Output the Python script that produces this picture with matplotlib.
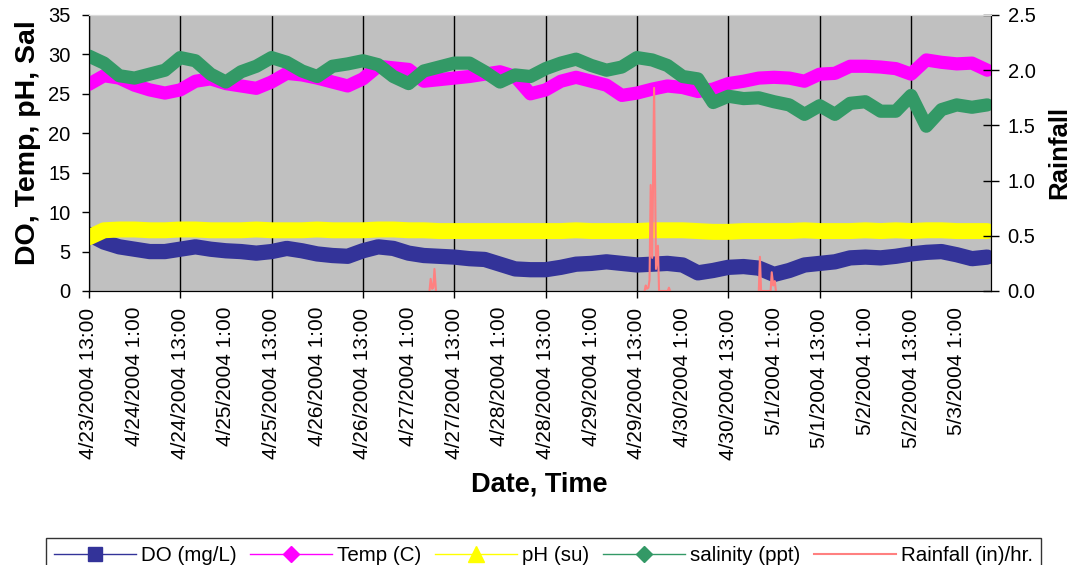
import matplotlib.pyplot as plt
import numpy as np
import pandas as pd
from matplotlib.lines import Line2D
from matplotlib.ticker import FormatStrFormatter, MultipleLocator

plt.rcParams['font.family'] = ['Liberation Sans', 'DejaVu Sans']

start = pd.Timestamp('2004-04-23 13:00')

# sonde readings, every 4 hours from the start time
hours = list(range(0, 240, 4))

do_mgl = [7.2, 6.2, 5.6, 5.3, 5.0, 5.0, 5.3, 5.6, 5.3, 5.1,
          5.0, 4.8, 5.0, 5.4, 5.1, 4.7, 4.5, 4.4, 5.1, 5.6,
          5.4, 4.8, 4.5, 4.4, 4.3, 4.1, 4.0, 3.4, 2.8, 2.7,
          2.7, 3.0, 3.4, 3.5, 3.7, 3.5, 3.3, 3.4, 3.5, 3.3,
          2.3, 2.6, 3.0, 3.1, 2.9, 2.1, 2.6, 3.3, 3.5, 3.7,
          4.2, 4.3, 4.2, 4.4, 4.7, 4.9, 5.0, 4.6, 4.1, 4.3]

temp_c = [26.2, 27.3, 27.0, 26.1, 25.5, 25.1, 25.5, 26.6, 26.9, 26.3,
          26.0, 25.7, 26.5, 27.6, 27.4, 27.0, 26.5, 26.0, 26.9, 28.5,
          28.3, 28.1, 26.6, 26.8, 27.0, 27.2, 27.5, 27.8, 27.2, 25.0,
          25.5, 26.6, 27.1, 26.6, 26.1, 24.8, 25.1, 25.6, 26.0, 25.8,
          25.3, 25.6, 26.3, 26.6, 27.0, 27.1, 27.0, 26.6, 27.5, 27.6,
          28.5, 28.5, 28.4, 28.2, 27.5, 29.3, 29.0, 28.8, 28.9, 28.0]

ph_su = [6.8, 7.7, 7.8, 7.8, 7.7, 7.7, 7.8, 7.8, 7.7, 7.7,
         7.7, 7.8, 7.7, 7.7, 7.7, 7.8, 7.7, 7.7, 7.7, 7.8,
         7.8, 7.7, 7.7, 7.6, 7.6, 7.6, 7.6, 7.6, 7.6, 7.6,
         7.6, 7.6, 7.7, 7.6, 7.6, 7.6, 7.6, 7.7, 7.7, 7.7,
         7.6, 7.5, 7.5, 7.6, 7.6, 7.6, 7.6, 7.7, 7.6, 7.6,
         7.6, 7.7, 7.6, 7.7, 7.6, 7.7, 7.7, 7.6, 7.6, 7.6]

salinity_ppt = [29.8, 28.9, 27.3, 27.0, 27.5, 28.0, 29.6, 29.2, 27.5, 26.5,
                27.8, 28.5, 29.6, 29.0, 27.9, 27.2, 28.5, 28.8, 29.2, 28.7,
                27.2, 26.3, 27.9, 28.4, 28.9, 28.9, 27.8, 26.5, 27.4, 27.2,
                28.2, 28.9, 29.4, 28.6, 28.0, 28.4, 29.6, 29.3, 28.6, 27.2,
                26.9, 23.9, 24.7, 24.4, 24.5, 24.0, 23.6, 22.4, 23.5, 22.4,
                23.8, 24.0, 22.8, 22.8, 24.8, 20.9, 23.0, 23.6, 23.3, 23.6]

# rain gauge (in/hr) for the three showers, hours since start
rain_hours = [[89.5, 89.8, 90.2, 90.5, 90.8, 91.2],
              [146.0, 146.3, 146.6, 147.0, 147.3, 147.6, 148.0, 148.5, 149.0, 149.5, 149.8,
               152.1, 152.4, 152.7],
              [176.0, 176.3, 176.6, 179.1, 179.4, 179.8, 180.2, 180.5]]
rain_in = [[0, 0.11, 0.02, 0.03, 0.20, 0],
           [0, 0.05, 0.02, 0.03, 0.10, 0.96, 0.30, 1.84, 0.20, 0.41, 0,
            0, 0.03, 0],
           [0, 0.31, 0, 0, 0.17, 0.05, 0.09, 0]]

label_times = pd.date_range(start, periods=20, freq='12h')
tick_labels = [f"{t.month}/{t.day}/{t.year} {t.hour}:{t.minute:02d}" for t in label_times]
tick_hours = [(t - start).total_seconds() / 3600 for t in label_times]

c_do, c_temp, c_ph, c_sal, c_rain = '#333399', '#FF00FF', '#FFFF00', '#339966', '#FF8080'

fig = plt.figure(figsize=(10.78, 5.65), dpi=100)
ax = fig.add_axes([88.8 / 1078, 1 - 291 / 565, (991 - 88.8) / 1078, 276 / 565])
ax.set_facecolor('#C0C0C0')

band = dict(solid_joinstyle='round', solid_capstyle='round')
ax.plot(hours, do_mgl, color=c_do, lw=11, **band)
ax.plot(hours, temp_c, color=c_temp, lw=9.5, **band)
ax.plot(hours, ph_su, color=c_ph, lw=11.5, **band)
ax.plot(hours, salinity_ppt, color=c_sal, lw=9.5, **band)

ax.set_xlim(0, 237)
ax.set_ylim(0, 35)
ax.yaxis.set_major_locator(MultipleLocator(5))
ax.set_xticks(tick_hours[::2], tick_labels[::2])
ax.set_xticks(tick_hours[1::2], tick_labels[1::2], minor=True)
ax.tick_params(axis='x', which='both', rotation=90, labelsize=15)
ax.tick_params(axis='x', which='major', length=5, width=1, pad=7.5)
ax.tick_params(axis='x', which='minor', length=0, pad=11.5)
ax.tick_params(axis='y', length=5, width=1, pad=8, labelsize=14.5)
ax.grid(axis='x', which='major', color='black', lw=1)
ax.set_axisbelow(True)

ax2 = ax.twinx()
for rh, rv in zip(rain_hours, rain_in):
    ax2.plot(rh, rv, color=c_rain, lw=1.5)
ax2.set_ylim(0, 2.5)
ax2.yaxis.set_major_locator(MultipleLocator(0.5))
ax2.yaxis.set_major_formatter(FormatStrFormatter('%.1f'))
ax2.tick_params(axis='y', direction='inout', length=11, width=1, pad=6.5, labelsize=14.5)

for a in (ax, ax2):
    for side in ('left', 'bottom', 'right'):
        a.spines[side].set_color('black')
    a.spines['top'].set_color('#DADADA')

ax.set_ylabel('DO, Temp, pH, Sal', fontsize=20.5, fontweight='bold', va='center', ha='center')
ax.yaxis.set_label_coords(-0.067, 0.538)
ax.set_xlabel('Date, Time', fontsize=19.5, fontweight='bold', va='center')
ax.xaxis.set_label_coords((539 - 88.8) / 902.2, (291 - 484) / 276)
ax2.set_ylabel('Rainfall', fontsize=18.5, fontweight='bold', va='center', ha='center')
ax2.yaxis.set_label_coords((1059 - 88.8) / 902.2, 0.502)

handles = [
    Line2D([], [], color=c_do, lw=1, marker='s', ms=10.5),
    Line2D([], [], color=c_temp, lw=1, marker='D', ms=8),
    Line2D([], [], color=c_ph, lw=1, marker='^', ms=11),
    Line2D([], [], color=c_sal, lw=1, marker='D', ms=8),
    Line2D([], [], color=c_rain, lw=1.5),
]
names = ['DO (mg/L)', 'Temp (C)', 'pH (su)', 'salinity (ppt)', 'Rainfall (in)/hr.']
leg = fig.legend(handles, names, loc='upper left', bbox_to_anchor=(45.5 / 1078, 1 - 537.6 / 565),
                 ncol=5, fontsize=14.8, frameon=True, fancybox=False, handlelength=4.0,
                 handletextpad=0.25, columnspacing=0.65, borderpad=0.4, borderaxespad=0)
leg.get_frame().set_edgecolor('black')
leg.get_frame().set_linewidth(1)

fig.savefig('out.png', dpi=100)
